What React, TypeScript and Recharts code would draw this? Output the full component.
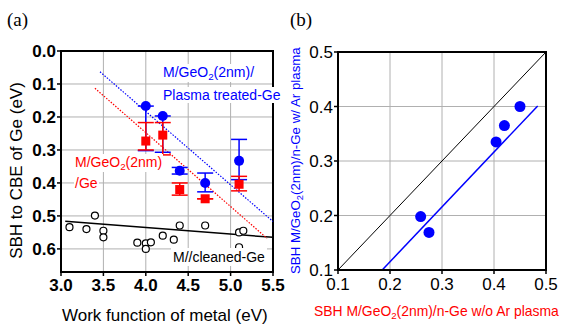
import React from "react";
import {
  ScatterChart,
  Scatter,
  XAxis,
  YAxis,
  CartesianGrid,
  ErrorBar,
  ReferenceLine,
  ReferenceArea,
} from "recharts";

const FONT = '"Liberation Sans", Arial, Helvetica, sans-serif';
const BLUE = "#0000ff";
const RED = "#ff0000";

// panel (a): SBH vs work function
const plasmaX = [4.0, 4.2, 4.4, 4.7, 5.1];
const plasmaSBH = [0.167, 0.197, 0.363, 0.4, 0.333];
const plasmaErrLow = [0, 0, 0.01, 0.03, 0.065];
const plasmaErrHigh = [0.135, 0.11, 0.01, 0.027, 0.057];

const geoX = [4.0, 4.2, 4.4, 4.7, 5.1];
const geoSBH = [0.273, 0.255, 0.42, 0.448, 0.404];
const geoErrLow = [0.056, 0.038, 0.02, 0, 0.024];
const geoErrHigh = [0.027, 0.06, 0.017, 0, 0.02];

const cleanX = [3.1, 3.3, 3.4, 3.5, 3.5, 3.9, 4.0, 4.06, 4.0, 4.2, 4.33, 4.4, 4.7, 5.1, 5.15, 5.1];
const cleanSBH = [0.534, 0.54, 0.499, 0.545, 0.565, 0.581, 0.583, 0.58, 0.6, 0.56, 0.572, 0.529, 0.529, 0.55, 0.545, 0.595];

const cleanFit = [[3.05, 0.516], [5.5, 0.565]];
const plasmaFit = [[3.46, 0.063], [5.5, 0.517]];
const geoFit = [[3.4, 0.113], [5.43, 0.568]];

const aXTicks = [3.0, 3.5, 4.0, 4.5, 5.0, 5.5];
const aYTicks = [0.0, 0.1, 0.2, 0.3, 0.4, 0.5, 0.6];

// panel (b): with vs without Ar plasma
const bX = [0.259, 0.275, 0.404, 0.42, 0.45];
const bY = [0.198, 0.169, 0.335, 0.365, 0.4];
const bFit = [[0.185, 0.1], [0.484, 0.401]];
const bDiag = [[0.1, 0.1], [0.5, 0.5]];
const bTicks = [0.1, 0.2, 0.3, 0.4, 0.5];

const plasmaData = plasmaX.map((x, i) => ({ x, y: plasmaSBH[i], err: [plasmaErrLow[i], plasmaErrHigh[i]] }));
const geoData = geoX.map((x, i) => ({ x, y: geoSBH[i], err: [geoErrLow[i], geoErrHigh[i]] }));
const cleanData = cleanX.map((x, i) => ({ x, y: cleanSBH[i] }));
const bData = bX.map((x, i) => ({ x, y: bY[i] }));

const seg = (s: number[][]) => s.map(([x, y]) => ({ x, y }));
const fmt = (v: number) => v.toFixed(1);

// eslint-disable-next-line @typescript-eslint/no-explicit-any
const dot = (r: number, fill: string) => (p: any) => <circle cx={p.cx} cy={p.cy} r={r} fill={fill} />;
// eslint-disable-next-line @typescript-eslint/no-explicit-any
const square = (p: any) => <rect x={p.cx - 4.5} y={p.cy - 4.5} width={9} height={9} fill={RED} />;
// eslint-disable-next-line @typescript-eslint/no-explicit-any
const ring = (p: any) => <circle cx={p.cx} cy={p.cy} r={3.5} fill="#fff" stroke="#000" strokeWidth={1.2} />;

const Sub2 = () => (
  <span style={{ fontSize: "0.7em", position: "relative", top: "0.35em" }}>2</span>
);

function Txt({
  x,
  y,
  size,
  color = "#000",
  bg,
  pad = 0,
  children,
}: {
  x: number;
  y: number;
  size: number;
  color?: string;
  bg?: string;
  pad?: number;
  children: React.ReactNode;
}) {
  return (
    <div
      style={{
        position: "absolute",
        left: x - pad,
        top: y - size / 2 - pad,
        fontSize: size,
        lineHeight: `${size}px`,
        color,
        fontFamily: FONT,
        whiteSpace: "nowrap",
        background: bg,
        padding: pad,
      }}
    >
      {children}
    </div>
  );
}

function VTxt({ cx, cy, size, color = "#000", children }: { cx: number; cy: number; size: number; color?: string; children: React.ReactNode }) {
  const w = 300;
  return (
    <div
      style={{
        position: "absolute",
        left: cx - w / 2,
        top: cy - size / 2,
        width: w,
        textAlign: "center",
        fontSize: size,
        lineHeight: `${size}px`,
        color,
        fontFamily: FONT,
        whiteSpace: "nowrap",
        transform: "rotate(-90deg)",
      }}
    >
      {children}
    </div>
  );
}

const boldTick = { fontSize: 17, fontWeight: "bold", fill: "#000", fontFamily: FONT };
const plainTick = { fontSize: 17, fill: "#000", fontFamily: FONT };
const axisLine = { stroke: "#000", strokeWidth: 2 };
const tickLine = { stroke: "#000", strokeWidth: 1.5 };

function PanelA() {
  return (
    <ScatterChart width={290} height={325} margin={{ top: 51, right: 17, left: 0, bottom: 0 }}>
      <CartesianGrid stroke="#b0b0b0" strokeWidth={1} />
      <XAxis
        type="number"
        dataKey="x"
        domain={[3, 5.5]}
        ticks={aXTicks}
        tickFormatter={fmt}
        tick={boldTick}
        axisLine={axisLine}
        tickLine={tickLine}
        tickSize={4}
        tickMargin={3}
        height={53}
        allowDataOverflow
      />
      <YAxis
        type="number"
        dataKey="y"
        domain={[0, 0.67]}
        reversed
        ticks={aYTicks}
        tickFormatter={fmt}
        tick={boldTick}
        axisLine={axisLine}
        tickLine={tickLine}
        tickSize={4}
        tickMargin={1}
        width={61}
        allowDataOverflow
      />
      <ReferenceArea x1={3} x2={5.5} y1={0} y2={0.67} fill="none" stroke="#000" strokeWidth={2} ifOverflow="visible" />
      <ReferenceLine segment={seg(cleanFit)} stroke="#000" strokeWidth={1.5} />
      <ReferenceLine segment={seg(plasmaFit)} stroke={BLUE} strokeWidth={1.2} strokeDasharray="1.5 1.5" />
      <ReferenceLine segment={seg(geoFit)} stroke={RED} strokeWidth={1.2} strokeDasharray="1.5 1.5" />
      <Scatter data={cleanData} shape={ring} isAnimationActive={false} />
      <Scatter data={plasmaData} shape={dot(5, BLUE)} isAnimationActive={false}>
        <ErrorBar dataKey="err" direction="y" width={8} stroke={BLUE} strokeWidth={1.5} isAnimationActive={false} />
      </Scatter>
      <Scatter data={geoData} shape={square} isAnimationActive={false}>
        <ErrorBar dataKey="err" direction="y" width={8} stroke={RED} strokeWidth={1.5} isAnimationActive={false} />
      </Scatter>
    </ScatterChart>
  );
}

function PanelB() {
  return (
    <ScatterChart width={275} height={325} margin={{ top: 52, right: 19, left: 0, bottom: 0 }}>
      <CartesianGrid stroke="#b0b0b0" strokeWidth={1} />
      <XAxis
        type="number"
        dataKey="x"
        domain={[0.1, 0.5]}
        ticks={bTicks}
        tickFormatter={fmt}
        tick={plainTick}
        axisLine={axisLine}
        tickLine={tickLine}
        tickSize={4}
        tickMargin={4}
        height={55}
        allowDataOverflow
      />
      <YAxis
        type="number"
        dataKey="y"
        domain={[0.1, 0.5]}
        ticks={bTicks}
        tickFormatter={fmt}
        tick={plainTick}
        axisLine={axisLine}
        tickLine={tickLine}
        tickSize={4}
        tickMargin={1}
        width={48}
        allowDataOverflow
      />
      <ReferenceArea x1={0.1} x2={0.5} y1={0.1} y2={0.5} fill="none" stroke="#000" strokeWidth={2} ifOverflow="visible" />
      <ReferenceLine segment={seg(bDiag)} stroke="#000" strokeWidth={1} />
      <ReferenceLine segment={seg(bFit)} stroke={BLUE} strokeWidth={1.5} />
      <Scatter data={bData} shape={dot(5.5, BLUE)} isAnimationActive={false} />
    </ScatterChart>
  );
}

export default function App() {
  return (
    <div style={{ position: "absolute", left: 0, top: 0, width: 565, height: 325, background: "#fff", overflow: "hidden" }}>
      <div style={{ position: "absolute", left: 0, top: 0 }}>
        <PanelA />
      </div>
      <div style={{ position: "absolute", left: 290, top: 0 }}>
        <PanelB />
      </div>

      <div style={{ position: "absolute", left: 7, top: 9, fontSize: 19, fontFamily: '"Liberation Serif", "DejaVu Serif", serif' }}>(a)</div>
      <div style={{ position: "absolute", left: 290, top: 9, fontSize: 19, fontFamily: '"Liberation Serif", "DejaVu Serif", serif' }}>(b)</div>

      <Txt x={163} y={72} size={14} color={BLUE} bg="#fff" pad={1}>
        M/GeO<Sub2 />(2nm)/
      </Txt>
      <Txt x={163} y={95} size={14} color={BLUE} bg="#fff" pad={1}>
        Plasma treated-Ge
      </Txt>
      <Txt x={75} y={162} size={14} color={RED} bg="#fff" pad={1}>
        M/GeO<Sub2 />(2nm)
      </Txt>
      <Txt x={75} y={183} size={14} color={RED} bg="#fff" pad={1}>
        /Ge
      </Txt>
      <Txt x={173} y={257} size={14} bg="#fff" pad={2}>
        M//cleaned-Ge
      </Txt>

      <VTxt cx={16} cy={170} size={17}>SBH to CBE of Ge (eV)</VTxt>
      <Txt x={62} y={315} size={17}>Work function of metal (eV)</Txt>

      <VTxt cx={297} cy={160} size={13.3} color={BLUE}>
        SBH M/GeO<Sub2 />(2nm)/n-Ge w/ Ar plasma
      </VTxt>
      <Txt x={314} y={312} size={13.9} color={RED}>
        SBH M/GeO<Sub2 />(2nm)/n-Ge w/o Ar plasma
      </Txt>
    </div>
  );
}
